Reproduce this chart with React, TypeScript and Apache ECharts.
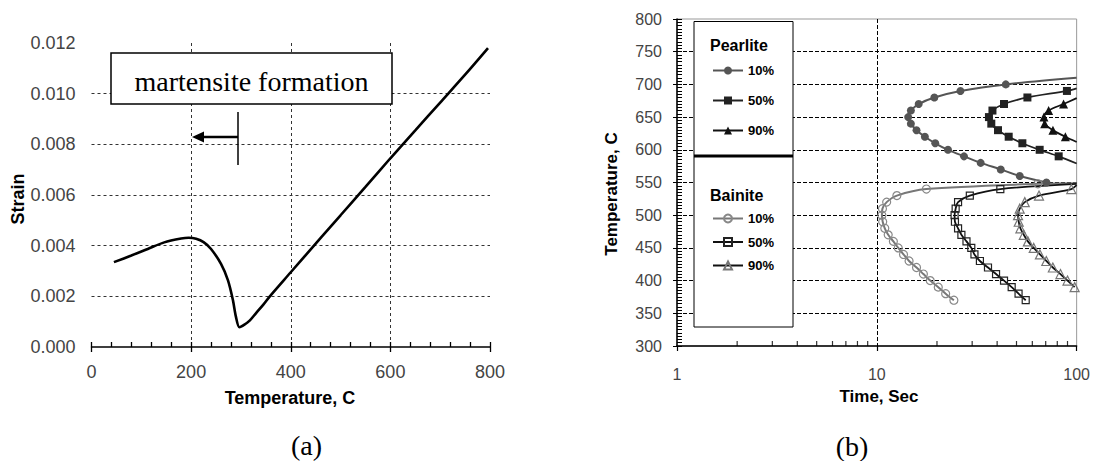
import React, { useEffect, useRef } from "react";
import * as echarts from "echarts";

// ---------- Chart (a): strain vs temperature ----------
const strainTemps = [45, 80, 113, 146, 180, 195, 210, 225, 240, 260, 274, 284, 290, 297, 307, 318, 330, 345, 358, 400, 461, 500, 550, 600, 650, 700, 750, 796];
const strainValues = [0.00335, 0.00361, 0.00387, 0.00413, 0.00428, 0.00431, 0.00427, 0.00414, 0.00387, 0.00328, 0.00263, 0.00184, 0.00119, 0.00078, 0.00088, 0.00105, 0.00133, 0.00167, 0.002, 0.00295, 0.00433, 0.0052, 0.00632, 0.00745, 0.00855, 0.00965, 0.01075, 0.0118];
const tempTicksA = { min: 0, max: 800, interval: 200 };
const strainTicksA = { min: 0, max: 0.012, interval: 0.002 };

// ---------- Chart (b): TTT diagram ----------
// [time (s), temperature (C)]
const pearlite10 = [[44.2, 700], [26.2, 690], [19.4, 680], [16.2, 670], [14.8, 660], [14.35, 650], [14.8, 640], [15.8, 630], [17.4, 620], [19.6, 610], [22.7, 600], [27.3, 590], [33.1, 580], [41.7, 570], [51.9, 560], [70.6, 550]];
const pearlite10Ends = { start: [100, 710], end: null as number[] | null };
const pearlite50 = [[89.4, 690], [56.7, 680], [43.3, 670], [37.9, 660], [36.4, 650], [37.4, 640], [40.4, 630], [45.7, 620], [53.5, 610], [65.3, 600], [81.3, 590]];
const pearlite50Ends = { start: [100, 694], end: [100, 579] };
const pearlite90 = [[86, 670], [72.4, 660], [68.6, 650], [69.2, 640], [76.1, 630], [87.8, 620]];
const pearlite90Ends = { start: [100, 679], end: [100, 612] };
const bainite10 = [[64, 548], [17.7, 540], [12.6, 530], [11.2, 520], [10.67, 510], [10.6, 500], [10.7, 490], [10.96, 480], [11.4, 470], [12.1, 460], [12.8, 450], [13.6, 440], [14.5, 430], [15.8, 420], [17.1, 410], [18.5, 400], [20.3, 390], [22.1, 380], [24.3, 370]];
const bainite10Ends = { start: [100, 549], end: null as number[] | null };
const bainite50 = [[41.5, 540], [29.2, 530], [25.5, 520], [24.8, 510], [24.5, 500], [24.6, 490], [25.5, 480], [26.5, 470], [28.1, 460], [29.7, 450], [30.8, 440], [32.8, 430], [36, 420], [39.5, 410], [43.3, 400], [47.3, 390], [51.2, 380], [55.6, 370]];
const bainite50Ends = { start: [100, 548], end: null as number[] | null };
const bainite90 = [[94, 540], [64.8, 530], [55, 520], [51.9, 510], [50.9, 500], [51.3, 490], [52.3, 480], [54.4, 470], [57, 460], [61, 450], [65.5, 440], [70.5, 430], [76, 420], [83, 410], [90, 400], [97.7, 390]];
const bainite90Ends = { start: [100, 546], end: null as number[] | null };
const logMinorTicks = [2, 3, 4, 5, 6, 7, 8, 9, 20, 30, 40, 50, 60, 70, 80, 90];
const tempTicksB = { min: 300, max: 800, interval: 50 };
const timeRangeB = { min: 1, max: 100 };
const pearliteNames = ["Pearlite 10%", "Pearlite 50%", "Pearlite 90%"];
const bainiteNames = ["Bainite 10%", "Bainite 50%", "Bainite 90%"];

const SANS = '"Liberation Sans", Arial, sans-serif';
const SERIF = '"Liberation Serif", "Times New Roman", serif';

function withEnds(pts: number[][], ends: { start: number[] | null; end: number[] | null }) {
  const out: any[] = [];
  if (ends.start) out.push({ value: ends.start, symbol: "none" });
  pts.forEach((p) => out.push(p));
  if (ends.end) out.push({ value: ends.end, symbol: "none" });
  return out;
}

function ttSeries(name: string, pts: number[][], ends: any, symbol: string, size: number, lineColor: string, markColor: string, open: boolean, lineWidth = 1.8) {
  return {
    name, type: "line", xAxisIndex: 2, yAxisIndex: 1, smooth: 0.3, symbol, symbolSize: size,
    lineStyle: { color: lineColor, width: lineWidth },
    itemStyle: open
      ? { color: "rgba(255,255,255,0)", borderColor: markColor, borderWidth: 1.2 }
      : { color: markColor, borderColor: markColor, borderWidth: 0 },
    emphasis: { disabled: true },
    data: withEnds(pts, ends),
    z: 3,
  };
}

function buildOption() {
  const tickLabelA = { fontSize: 18, fontFamily: SANS, color: "#444" };
  const tickLabelB = { fontSize: 16, fontFamily: SANS, color: "#444" };
  const legendText = { fontSize: 13, fontWeight: "bold", fontFamily: SANS, color: "#000" };
  return {
    animation: false,
    backgroundColor: "#fff",
    grid: [
      { left: 91.5, top: 43, width: 398.5, height: 304, containLabel: false },
      { left: 677, top: 19, width: 400, height: 327, show: true, borderColor: "#999", borderWidth: 1, containLabel: false },
    ],
    xAxis: [
      {
        gridIndex: 0, type: "value", ...tempTicksA, position: "bottom",
        axisLine: { show: true, onZero: false, lineStyle: { color: "#000", width: 1.5 } },
        axisTick: { show: true, inside: true, length: 5, lineStyle: { color: "#000", width: 1.3 } },
        minorTick: { show: true, splitNumber: 5, length: 5, lineStyle: { color: "#000", width: 1.3 } },
        axisLabel: { ...tickLabelA, margin: 16 },
        splitLine: { show: true, showMinLine: false, showMaxLine: false, lineStyle: { color: "#333", type: [3, 3], width: 1 } },
      },
      {
        gridIndex: 0, type: "value", ...tempTicksA, position: "bottom", offset: 0,
        axisLine: { show: false, onZero: false },
        axisTick: { show: true, inside: false, length: 5, lineStyle: { color: "#000", width: 1.3 } },
        axisLabel: { show: false },
        splitLine: { show: false },
      },
      {
        gridIndex: 1, type: "log", logBase: 10, ...timeRangeB, position: "bottom",
        axisLine: { show: true, onZero: false, lineStyle: { color: "#000", width: 1.5 } },
        axisTick: { show: true, inside: false, length: 5, lineStyle: { color: "#000", width: 1.2 } },
        axisLabel: { ...tickLabelB, margin: 20 },
        splitLine: { show: true, showMinLine: false, showMaxLine: false, lineStyle: { color: "#000", type: [4, 2], width: 1 } },
      },
    ],
    yAxis: [
      {
        gridIndex: 0, type: "value", ...strainTicksA, position: "left",
        axisLine: { show: false, onZero: false },
        axisTick: { show: false },
        axisLabel: { ...tickLabelA, margin: 16, formatter: (v: number) => v.toFixed(3) },
        splitLine: { show: true, showMinLine: false, showMaxLine: false, lineStyle: { color: "#333", type: [3, 3], width: 1 } },
      },
      {
        gridIndex: 1, type: "value", ...tempTicksB, position: "left",
        axisLine: { show: true, onZero: false, lineStyle: { color: "#000", width: 1.5 } },
        axisTick: { show: true, inside: true, length: 5, lineStyle: { color: "#000", width: 1 } },
        minorTick: { show: true, splitNumber: 10, length: 5, lineStyle: { color: "#000", width: 1 } },
        axisLabel: { ...tickLabelB, margin: 15 },
        splitLine: { show: true, showMinLine: false, showMaxLine: false, lineStyle: { color: "#000", type: [4, 2], width: 1 } },
      },
      {
        gridIndex: 1, type: "value", ...tempTicksB, position: "left", offset: 0,
        axisLine: { show: false, onZero: false },
        axisTick: { show: true, inside: false, length: 4, lineStyle: { color: "#000", width: 1 } },
        axisLabel: { show: false },
        splitLine: { show: false },
      },
    ],
    legend: [
      {
        data: pearliteNames, orient: "vertical", left: 712, top: 64, padding: 0,
        itemWidth: 30, itemHeight: 10, itemGap: 17, selectedMode: false,
        formatter: (n: string) => n.split(" ")[1], textStyle: legendText, z: 20,
      },
      {
        data: bainiteNames, orient: "vertical", left: 712, top: 212, padding: 0,
        itemWidth: 30, itemHeight: 10, itemGap: 10.5, selectedMode: false,
        formatter: (n: string) => n.split(" ")[1], textStyle: legendText, z: 20,
      },
    ],
    series: [
      {
        name: "Strain", type: "line", xAxisIndex: 0, yAxisIndex: 0, smooth: 0.3, symbol: "none",
        lineStyle: { color: "#000", width: 2.6 },
        data: strainTemps.map((t, i) => [t, strainValues[i]]),
        z: 3,
      },
      ttSeries(pearliteNames[0], pearlite10, pearlite10Ends, "circle", 8, "#555", "#555", false, 2),
      ttSeries(pearliteNames[1], pearlite50, pearlite50Ends, "rect", 8, "#222", "#222", false),
      ttSeries(pearliteNames[2], pearlite90, pearlite90Ends, "triangle", 9, "#111", "#111", false),
      ttSeries(bainiteNames[0], bainite10, bainite10Ends, "circle", 8, "#777", "#888", true, 2),
      ttSeries(bainiteNames[1], bainite50, bainite50Ends, "rect", 7, "#111", "#222", true),
      ttSeries(bainiteNames[2], bainite90, bainite90Ends, "triangle", 9, "#111", "#777", true),
      {
        name: "minorTicks", type: "scatter", xAxisIndex: 2, yAxisIndex: 1,
        data: logMinorTicks.map((v) => [v, tempTicksB.min]),
        symbol: "rect", symbolSize: [1.2, 5], symbolOffset: [0, -2.5],
        itemStyle: { color: "#000" }, silent: true, clip: false, z: 5,
      },
    ],
    graphic: {
      elements: [
        // chart (a) annotation
        { type: "rect", z: 10, shape: { x: 111, y: 53, width: 281, height: 51 }, style: { fill: "#fff", stroke: "#000", lineWidth: 1.5 } },
        { type: "text", z: 11, x: 251.5, y: 81, style: { text: "martensite formation", font: `28px ${SERIF}`, fill: "#000", align: "center", verticalAlign: "middle" } },
        { type: "line", z: 11, shape: { x1: 203, y1: 137, x2: 238, y2: 137 }, style: { stroke: "#000", lineWidth: 2.5 } },
        { type: "polygon", z: 11, shape: { points: [[192, 137], [204, 131.5], [204, 142.5]] }, style: { fill: "#000" } },
        { type: "line", z: 11, shape: { x1: 238, y1: 112, x2: 238, y2: 165 }, style: { stroke: "#000", lineWidth: 1.5 } },
        // axis titles (a)
        { type: "text", z: 11, x: 17.5, y: 199, rotation: Math.PI / 2, style: { text: "Strain", font: `bold 18px ${SANS}`, fill: "#000", align: "center", verticalAlign: "middle" } },
        { type: "text", z: 11, x: 290, y: 398, style: { text: "Temperature, C", font: `bold 18px ${SANS}`, fill: "#000", align: "center", verticalAlign: "middle" } },
        { type: "text", z: 11, x: 306.5, y: 445, style: { text: "(a)", font: `28px ${SERIF}`, fill: "#000", align: "center", verticalAlign: "middle" } },
        // chart (b) legend box
        { type: "rect", z: 10, shape: { x: 694, y: 21.5, width: 99, height: 305.5 }, style: { fill: "#fff", stroke: "#000", lineWidth: 1 } },
        { type: "line", z: 11, shape: { x1: 694, y1: 156, x2: 793, y2: 156 }, style: { stroke: "#000", lineWidth: 3 } },
        { type: "text", z: 11, x: 710, y: 45, style: { text: "Pearlite", font: `bold 16px ${SANS}`, fill: "#000", align: "left", verticalAlign: "middle" } },
        { type: "text", z: 11, x: 710, y: 195, style: { text: "Bainite", font: `bold 16px ${SANS}`, fill: "#000", align: "left", verticalAlign: "middle" } },
        // axis titles (b)
        { type: "text", z: 11, x: 611, y: 194, rotation: Math.PI / 2, style: { text: "Temperature, C", font: `bold 17px ${SANS}`, fill: "#000", align: "center", verticalAlign: "middle" } },
        { type: "text", z: 11, x: 879, y: 396, style: { text: "Time, Sec", font: `bold 17px ${SANS}`, fill: "#000", align: "center", verticalAlign: "middle" } },
        { type: "text", z: 11, x: 852, y: 446, style: { text: "(b)", font: `28px ${SERIF}`, fill: "#000", align: "center", verticalAlign: "middle" } },
      ],
    },
  };
}

export default function App() {
  const ref = useRef<HTMLDivElement>(null);
  useEffect(() => {
    if (!ref.current) return;
    const chart = echarts.init(ref.current, null, { renderer: "svg" });
    chart.setOption(buildOption() as any);
    return () => chart.dispose();
  }, []);
  return (
    <div ref={ref} style={{ position: "fixed", left: 0, top: 0, width: 1093, height: 461, background: "#fff" }} />
  );
}
